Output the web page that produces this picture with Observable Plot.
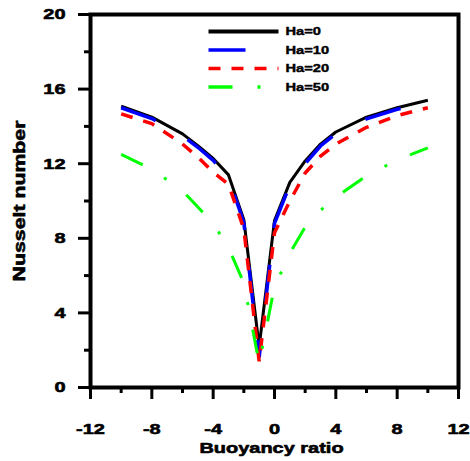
<!DOCTYPE html>
<html><head><meta charset="utf-8">
<script src="https://cdn.jsdelivr.net/npm/d3@7"></script>
<script src="https://cdn.jsdelivr.net/npm/@observablehq/plot@0.6"></script>
<style>
body{margin:0;background:#fff;}
</style></head><body><div id="chart"></div>
<script>
// ---- data ----
const ratios = [-10, -8, -6, -5, -4, -3, -2, -1, 0, 1, 2, 3, 4, 6, 8, 10];
const nuHa0  = [15.08, 14.5, 13.6, 12.97, 12.28, 11.4, 9.0, 2.2, 8.95, 11.0, 12.15, 13.05, 13.7, 14.5, 15.0, 15.4];
const nuHa10 = [15.0, 14.42, 13.5, 12.88, 12.18, 11.25, 8.85, 1.6, 8.8, 10.85, 12.0, 12.95, 13.6, 14.4, 14.92, 15.3];
const nuHa20 = [14.67, 14.15, 13.06, 12.35, 11.55, 10.9, 8.5, 1.4, 8.3, 10.0, 11.5, 12.4, 13.05, 13.95, 14.58, 15.0];
const nuHa50 = [12.5, 11.7, 10.55, 9.68, 8.8, 7.5, 5.6, 1.3, 5.4, 7.2, 8.6, 9.5, 10.2, 11.35, 12.2, 12.85];
const seriesNames = ["Ha=0", "Ha=10", "Ha=20", "Ha=50"];
const seriesColors = ["#000000", "#0000ff", "#ff0000", "#00ff00"];
const xTicks = [-12, -8, -4, 0, 4, 8, 12];
const xMinor = [-10, -6, -2, 2, 6, 10];
const yTicks = [0, 4, 8, 12, 16, 20];
const yMinor = [2, 6, 10, 14, 18];
const xLabel = "Buoyancy ratio";
const yLabel = "Nusselt number";

// ---- layout ----
const W = 470, H = 461, mL = 90, mR = 12, mT = 14, mB = 74;
const series = [nuHa0, nuHa10, nuHa20, nuHa50];
const widths = [3, 3.5, 3.5, 3];
const legendWidths = [4, 3.7, 3.7, 3.3];
const dashes = [null, "37,37", "12,11", "24,25,3,25"];
const px2x = p => -12 + (p - mL) * 24 / (W - mL - mR);
const px2y = p => 20 - (p - mT) * 20 / (H - mT - mB);
const xMin = -12, yMin = 0;
const legend = seriesNames.map((name, i) => ({
  name, i, x1: px2x(208), x2: px2x(278), xt: px2x(285), y: px2y(31 + i * 18.5)
}));
const fmt = d => `${d}`;
const bold = {fontWeight: "bold", fill: "#000", stroke: "#000", strokeWidth: 0.6};

const marks = [
  // ticks (outward)
  Plot.ruleX(xTicks, {x: d => d, y1: yMin, y2: px2y(H - mB + 12), strokeWidth: 3}),
  Plot.ruleX(xMinor, {x: d => d, y1: yMin, y2: px2y(H - mB + 6), strokeWidth: 3}),
  Plot.ruleY(yTicks, {y: d => d, x1: xMin, x2: px2x(mL - 12), strokeWidth: 3}),
  Plot.ruleY(yMinor, {y: d => d, x1: xMin, x2: px2x(mL - 6), strokeWidth: 3}),
  Plot.frame({strokeWidth: 4}),
  // tick labels
  Plot.text(xTicks, {x: d => d, y: yMin, text: fmt, dy: 36, lineAnchor: "top", textAnchor: "middle", fontSize: 15, ...bold}),
  Plot.text(yTicks, {x: xMin, y: d => d, text: fmt, dx: -25, textAnchor: "end", lineAnchor: "middle", fontSize: 15, ...bold}),
  // axis titles
  Plot.text([xLabel], {text: d => d, frameAnchor: "bottom", dy: 61, dx: -3, textAnchor: "middle", lineAnchor: "middle", fontSize: 15, ...bold}),
  Plot.text([yLabel], {text: d => d, frameAnchor: "left", dx: -71, rotate: -90, textAnchor: "middle", lineAnchor: "middle", fontSize: 16, ...bold}),
  // series
  ...series.map((vals, i) => Plot.line(ratios.map((r, j) => ({x: r, y: vals[j]})), {
    x: "x", y: "y", stroke: seriesColors[i], strokeWidth: widths[i],
    strokeDasharray: dashes[i], strokeLinecap: "butt", strokeLinejoin: "miter", curve: "linear"
  })),
  // legend
  ...legend.map(d => Plot.link([d], {
    x1: "x1", x2: "x2", y1: "y", y2: "y", stroke: seriesColors[d.i], strokeWidth: legendWidths[d.i],
    strokeDasharray: dashes[d.i], strokeLinecap: "butt"
  })),
  Plot.text(legend, {x: "xt", y: "y", text: "name", textAnchor: "start", lineAnchor: "middle", fontSize: 11, ...bold, strokeWidth: 0.4, ariaLabel: "legendtext"})
];

const chart = Plot.plot({
  width: W, height: H,
  marginLeft: mL, marginRight: mR, marginTop: mT, marginBottom: mB,
  style: {fontFamily: "'Liberation Sans', Arial, sans-serif", background: "#fff", color: "#000"},
  x: {domain: [-12, 12], axis: null},
  y: {domain: [0, 20], axis: null},
  marks
});
document.getElementById("chart").appendChild(chart);

// emulate the wide lettering of the original
chart.querySelectorAll("text").forEach(t => {
  const inLegend = t.closest('g[aria-label="legendtext"]');
  const k = inLegend ? 1.12 : 1.33;
  const L = t.getComputedTextLength();
  if (L > 0) {
    t.setAttribute("textLength", (L * k).toFixed(2));
    t.setAttribute("lengthAdjust", "spacingAndGlyphs");
  }
});
</script></body></html>
